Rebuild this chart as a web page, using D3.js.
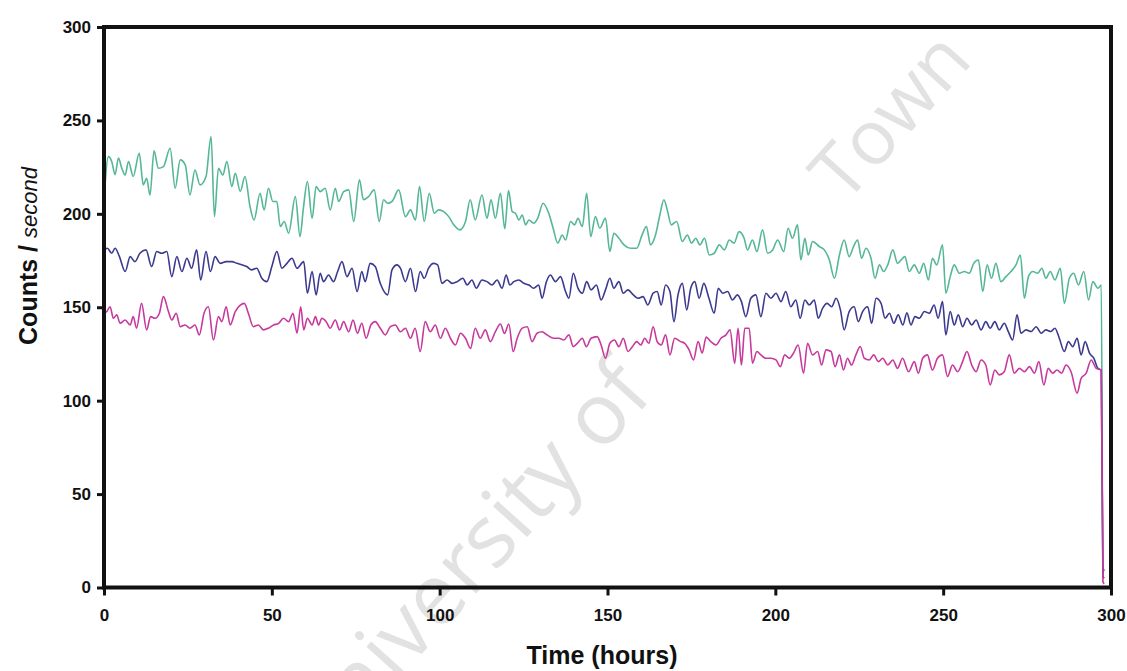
<!DOCTYPE html>
<html>
<head>
<meta charset="utf-8">
<script src="https://cdn.jsdelivr.net/npm/d3@7"></script>
<style>
  body { margin: 0; background: #fff; }
  svg { display: block; font-family: "Liberation Sans", Arial, sans-serif; }
</style>
</head>
<body>
<svg id="chart" width="1127" height="671"></svg>
<script>
// [hours, counts per second]
const green = [
  [0,206.6],[1.3,230.6],[2.3,228],[3.3,221],[4.3,229.8],[5.3,224.4],[6.3,220.8],[7.3,228],[8.7,220],[10.5,232.4],
  [11.7,215.5],[12.7,219],[13.7,210],[14.9,233.7],[16.2,224.4],[17.7,225.3],[19.7,235.1],[21.2,213.7],[22.7,228.9],[24.2,226.2],
  [25.6,210.1],[27.1,223.5],[28.6,215.5],[30.4,220],[31.9,241.4],[32.9,198.5],[34.1,224.4],[35.4,220.8],[36.6,228],[38.1,214.6],
  [39.1,221.7],[40.6,212],[42,220],[43.5,203.9],[44.7,196.7],[46.5,211],[47.7,202.1],[49,213.7],[50.3,206.6],[51.5,206.6],
  [52.5,193.2],[53.7,195.9],[55,189.6],[57,209.2],[58.4,187.8],[59.4,203],[60.6,217.3],[62,197.6],[63.2,214.6],[64.4,211.9],
  [65.9,213.7],[67.4,202.1],[68.9,213.7],[69.9,206.6],[71.4,211.9],[72.9,212.8],[74.4,195.9],[76.1,218.2],[77.3,207.5],[78.8,209.2],
  [80.5,212.8],[82,195.9],[83.3,207.5],[84.5,205.7],[85.8,206.6],[87.8,212.8],[89.8,198.5],[91.3,202.1],[92.8,196.7],[94,214.6],
  [95.4,195.9],[96.9,211],[98.4,200.3],[99.7,202.1],[101.2,201.2],[102.7,198.5],[104.2,194.1],[106,191.4],[107.7,195.9],[109.1,207.5],
  [110.6,196.7],[112.6,210.1],[114.1,197.6],[115.3,207.5],[116.6,197.6],[118.1,211],[119.4,192],[120.5,212.5],[121.6,201.2],[122.6,200.3],
  [123.6,196.7],[124.6,199.4],[125.6,194.1],[126.6,196.7],[128,195],[129.2,197.6],[130.8,205.7],[132.5,200.3],[133.8,192.3],[135.2,184.3],
  [136.5,188.7],[137.5,186],[139,195.9],[140.2,194.1],[141.2,197.6],[142.5,193.2],[143.8,211],[145,187.8],[146.4,198.5],[147.7,192.3],
  [149.4,197.6],[150.7,179.8],[151.9,189.6],[153.4,186.9],[154.9,183.4],[156.9,181.6],[158.7,181.6],[160.3,188.7],[161.6,193.2],[162.8,183.4],
  [164.3,188.7],[165.6,199.4],[166.8,207.5],[167.8,202.1],[169,194.1],[170.6,195.9],[172.3,185.2],[173.8,188.7],[175,184.3],[176.3,186.9],
  [177.5,183.4],[178.9,186.9],[180.3,178],[181.8,178.9],[183.3,183.4],[184.8,180.7],[186.3,186],[187.7,184.3],[189.2,190.5],[190.7,186.9],
  [191.7,180.7],[193.2,186],[194.5,179.8],[196.2,191.4],[197.7,178.9],[199.2,180.7],[200.7,186],[202.5,179.8],[203.8,192.3],[205.1,186.9],
  [206.6,194.1],[207.6,175.3],[208.8,186.9],[209.8,178],[211.1,185.2],[213.1,182.5],[214.6,180.7],[216.1,175.3],[217.6,165.5],[219.1,178],
  [220.5,186],[222,177.1],[223.3,182.5],[224.5,186],[225.7,176.2],[227,181.6],[228.5,176.2],[229.7,165.5],[231,172.7],[232.3,169.1],
  [233.5,172.7],[235,180.7],[236.4,173.5],[237.9,176.2],[238.6,177.1],[239.9,169.1],[241.4,172.7],[242.9,168.2],[244.2,173.5],[245.6,164.6],
  [246.8,176.2],[248.1,172.7],[249.8,183.4],[250.8,157.5],[252.1,166.4],[253.3,172.7],[254.8,168.2],[256.3,169.1],[257.8,168.2],[259.1,173.5],
  [260.5,175.3],[261.8,158.4],[263.1,172.7],[264.4,165.5],[265.7,173.5],[267.2,163.7],[268.7,166.4],[270.2,169.1],[271.7,172.7],[273,178],
  [274.2,154.8],[275.4,166.4],[276.7,169.1],[278.2,168.2],[279.4,170.9],[280.6,165.5],[281.9,169.1],[283.3,164.6],[284.9,170.9],[286.1,152.1],
  [287.6,165.5],[288.9,168.2],[290.3,161.9],[291.9,169.1],[293.3,153.9],[294.6,163.7],[296.1,160.2],[297.1,161.9],[297.6,8],[298,10]
];

const blue = [
  [0,180.7],[1,181.6],[2.3,178.9],[3.3,181.6],[4.6,177.1],[6.3,169.1],[7.8,177.1],[9.2,174.4],[10.7,178.9],[12.5,180.7],
  [14.2,171.8],[15.7,179.8],[17.2,178.9],[18.7,179.8],[20.2,166.4],[21.7,177.1],[23.2,169.1],[24.7,176.2],[26.1,170.9],[27.6,180.7],
  [28.8,164.6],[30.4,179.8],[31.7,169.1],[33.1,177.1],[34.6,173.5],[36.4,174.4],[38.1,174.4],[39.6,173.5],[41.1,172.7],[42.5,171.8],
  [44,170],[45.5,170.9],[47,165.5],[48.5,163.7],[50,171.8],[51.5,179.8],[53,170.9],[54.5,173.5],[56,176.2],[57.5,170.9],
  [59.5,174.4],[60.6,157.5],[62,169.1],[63.2,156.6],[64.4,168.2],[65.4,163.7],[66.9,167.3],[68.4,163.7],[69.6,169.1],[70.9,174.4],
  [72.4,166.4],[73.9,170.9],[75.4,158.4],[76.8,169.1],[77.8,163.7],[79.3,173.5],[80.8,171.8],[82.3,162.8],[84.5,156.6],[85.8,170],
  [87.3,172.7],[88.3,170.9],[89.8,163.7],[91.3,170.9],[92.8,158.4],[94.2,169.1],[95.4,165.5],[96.7,170.9],[98.2,173.5],[99.4,172.7],
  [100.7,162.8],[102.2,164.6],[103.7,162.8],[105.2,163.7],[106.9,165.5],[108.2,161.9],[109.6,164.6],[110.9,160.2],[112.6,164.6],[114.1,163.7],
  [115.6,161.9],[117.1,164.6],[118.6,160.2],[119.8,167.3],[120.9,161.9],[122.1,163.7],[123.6,164.6],[125.1,162.8],[126.6,161.9],[128,160.2],
  [129.5,161.9],[130.5,154.8],[131.8,163.7],[133,167.3],[134.5,163.7],[136,166.4],[137.5,158.4],[138.5,154.8],[139.8,168.2],[141.2,160.2],
  [142.5,157.5],[143.8,163.7],[145.1,159.3],[146.7,161.9],[148.1,153.9],[149.4,159.3],[150.7,165.5],[151.9,160.2],[153.4,163.7],[154.7,157.5],
  [156.1,159.3],[157.7,156.6],[159.1,154.8],[160.6,155.7],[162,151.2],[163.6,157.5],[164.8,158.4],[166,151.2],[167.3,161.9],[168.6,158.4],
  [169.8,142.3],[171,156.6],[172.3,162.8],[173.6,148.6],[174.8,160.2],[176,163.7],[177.3,154.8],[178.7,162.8],[180.2,155],[181.8,146.8],
  [183,160.2],[184.3,157.5],[185.8,158.4],[187.2,153.9],[188.7,156.6],[189.9,153],[191.2,145],[192.7,154.8],[194.2,156.6],[195.7,145],
  [197.2,157.5],[198.7,154.8],[200.2,157.5],[201.7,153],[203.1,158.4],[204.6,150.3],[206.1,153.9],[207.4,144.1],[208.8,153.9],[210.1,151.2],
  [211.6,153.9],[212.8,144.1],[214.1,149.5],[215.4,152.1],[216.8,150.3],[218.1,154.8],[219.4,148.6],[220.5,137.9],[222,147.7],[223.5,150.3],
  [224.7,142.3],[226,147.7],[227.5,150.3],[228.7,141.4],[230,154.8],[231.5,152.1],[232.7,144.1],[234,146.8],[235.3,141.4],[236.6,145.9],
  [238,140.5],[239.2,147],[240.4,140.5],[241.6,145],[242.9,144.1],[244.4,147.7],[245.9,146.8],[247.3,151.2],[248.5,144.1],[249.8,153],
  [250.8,135.2],[252.1,147.7],[253.3,140.5],[254.5,145.9],[255.8,139.6],[257.1,144.1],[258.5,140.5],[259.8,143.2],[261.3,137.9],[262.7,142.3],
  [264,138.8],[265.4,142.3],[266.7,137.9],[268.2,141.4],[269.4,137],[270.7,132.5],[272,145.9],[273.2,136.1],[274.7,137.9],[276.2,137],
  [277.7,139.6],[279.2,136.1],[280.6,137.9],[282.1,137],[283.3,138.8],[284.6,133.4],[286.1,126.3],[287.3,131.6],[288.6,128.9],[289.9,133.4],
  [291.1,124.5],[292.3,131.6],[293.6,125.4],[294.9,122.7],[296.1,117.3],[297.1,116.4],[297.6,6],[298,5]
];

const magenta = [
  [0,147],[0.8,147.7],[1.8,150.3],[2.8,144.1],[3.8,145.9],[4.8,141.4],[6.3,143.2],[7.8,140.5],[8.7,145],[9.7,138.8],
  [11.2,152.1],[12.7,137.9],[13.9,145],[15.2,144.1],[16.5,146.8],[17.7,155.7],[19.2,147.7],[20.2,143.2],[21.5,146.8],[22.7,139.6],
  [24.2,140.5],[25.6,138.8],[27.1,140.5],[28.4,135.2],[29.8,146.8],[31.1,150.3],[32.6,132.5],[34.1,145],[35.1,142.3],[36.4,150.3],
  [37.6,140.5],[39.1,147.7],[40.6,151.2],[41.8,152.1],[43,146.8],[44.5,139.6],[46,140.5],[47.5,137.9],[49,138.8],[50.5,140.5],
  [52,141.4],[53.5,144.1],[55,142.3],[56.3,146.8],[57.5,136.1],[58.6,150.3],[59.5,137.9],[60.6,144.1],[62,140.5],[63,145],
  [63.9,140.5],[64.9,144.1],[66.2,142.3],[67.4,138.8],[68.9,143.2],[70.2,137.9],[71.4,142.3],[72.9,136.9],[74.2,143.2],[75.5,136.1],
  [76.8,141.4],[78.1,133.4],[79.5,140.5],[80.8,142.3],[82.3,138.8],[83.8,135.2],[85.3,139.6],[86.8,140.5],[88.3,136.9],[89.8,138.8],
  [91.3,133.4],[92.7,138.8],[94.2,126.3],[95.7,142.3],[97.2,136.9],[98.7,140.5],[100.2,133.4],[101.7,138.8],[103.2,133.4],[104.7,129.8],
  [106.2,136.1],[107.7,133.4],[109.2,128],[110.6,138.8],[112.1,133.4],[113.6,137.9],[115.1,131.6],[116.6,136.9],[118.1,141],[119.3,136],
  [120.6,141],[121.9,126.3],[123.1,133.4],[124.6,138.8],[126.1,139.6],[127.5,131.6],[129,136.1],[130.5,136.9],[132,135.2],[134,133.4],
  [135.5,133.4],[137,132.5],[138.5,135.2],[139.8,128.9],[141,130.7],[142.5,133.4],[143.7,128.9],[145.1,133.4],[146.9,134.3],[148.1,129.8],
  [149.4,122.7],[150.7,130.7],[152.1,132.5],[153.4,128.9],[154.7,133.4],[156.1,126.3],[157.4,128.9],[158.7,131.6],[159.9,129.8],[161.1,133.4],
  [162.3,130.7],[163.6,139.6],[164.8,131.6],[166,129.8],[167.3,135.2],[168.6,124.5],[170,133.4],[171.8,131.6],[173,130.7],[174.3,127.2],
  [175.6,121.8],[177,131.6],[178.2,125.5],[179.4,134],[180.8,131.6],[182.3,129.8],[183.8,133.4],[185.3,135.2],[186.5,137.9],[187.9,120],
  [188.9,138.8],[189.9,119.1],[190.9,138.8],[192.2,138.8],[193.2,120],[194.5,126.3],[195.7,124.5],[197.2,122.7],[198.7,122.7],[200.2,121.8],
  [201.5,118.2],[202.8,124.5],[204.1,122.7],[205.4,125.4],[206.8,129.8],[208.4,114.7],[209.6,130.7],[211.1,124.5],[212.6,126.3],[213.8,119.1],
  [215.1,127.2],[216.6,126.3],[217.8,118.2],[219.1,124.5],[220.3,116.4],[221.5,122.7],[222.7,119.1],[224,124.5],[225.3,129],[226.5,122.7],
  [228,121.8],[229.3,124.5],[230.7,120.9],[232,122.7],[233.5,119.1],[235,121.8],[236.4,117.3],[237.9,122.7],[239.7,115.5],[241.4,120.9],
  [242.6,114.7],[243.9,122.7],[245.3,124.5],[246.8,116.4],[248.3,122.7],[249.8,124.5],[251.3,112.9],[252.8,119.1],[254.3,115.5],[255.8,120.9],
  [257.1,126.3],[258.5,119.1],[259.8,115.5],[261.3,121.8],[262.7,119.1],[264,108.4],[265.4,116.4],[266.7,113.8],[268.2,115.5],[269.7,124.5],
  [271.2,114.7],[272.7,117.3],[274.2,115.5],[275.7,118.2],[277.2,114.7],[278.5,120.9],[280,108.4],[281.3,117.3],[282.6,114.7],[283.9,116.4],
  [285.3,114.7],[286.6,119.1],[288.1,115.5],[289.9,104],[291.1,111.9],[292.6,114.7],[294.1,121.8],[295.6,117.3],[297.1,116.4],[297.6,3],[298,2]
];

const xTicks = [0, 50, 100, 150, 200, 250, 300];
const yTicks = [0, 50, 100, 150, 200, 250, 300];

const svg = d3.select("#chart");

const x = d3.scaleLinear().domain([0, 300]).range([104, 1111]);
const y = d3.scaleLinear().domain([0, 300]).range([587.5, 27]);

// watermark of the scanned thesis (the middle word is hidden in the scan)
svg.append("text")
    .attr("transform", "translate(655,395) rotate(-48)")
    .attr("text-anchor", "end")
    .style("font-family", "'Open Sans', 'Liberation Sans', sans-serif")
    .style("font-size", "86px")
    .style("fill", "#e2e2e2")
    .text("University of");

svg.append("text")
    .attr("transform", "translate(845,205) rotate(-48)")
    .style("font-family", "'Open Sans', 'Liberation Sans', sans-serif")
    .style("font-size", "76px")
    .style("fill", "#e2e2e2")
    .text("Town");

let line = d3.line()
    .x(function (d) { return x(d[0]); })
    .y(function (d) { return y(d[1]); })
    .curve(d3.curveMonotoneX);

let series = [
    { data: green, color: "#55b795" },
    { data: blue, color: "#3b3a8f" },
    { data: magenta, color: "#c63a9c" }
];

for (let i = 0; i < series.length; i++) {
    svg.append("path")
        .datum(series[i].data)
        .attr("d", line)
        .style("fill", "none")
        .style("stroke", series[i].color)
        .style("stroke-width", 1.6)
        .style("stroke-linejoin", "round");
}

// frame
svg.append("rect")
    .attr("x", x(0))
    .attr("y", y(300))
    .attr("width", x(300) - x(0))
    .attr("height", y(0) - y(300))
    .style("fill", "none")
    .style("stroke", "#111")
    .style("stroke-width", 4);

let yAxis = svg.append("g")
    .attr("transform", "translate(" + x(0) + ",0)")
    .call(d3.axisLeft(y).tickValues(yTicks).tickSize(7).tickPadding(6));

let xAxis = svg.append("g")
    .attr("transform", "translate(0," + y(0) + ")")
    .call(d3.axisBottom(x).tickValues(xTicks).tickSize(8).tickPadding(13));

[yAxis, xAxis].forEach(function (g) {
    g.select(".domain").remove();
    g.selectAll(".tick line").style("stroke", "#111").style("stroke-width", 3);
    g.selectAll(".tick text")
        .style("font-family", "'Liberation Sans', Arial, sans-serif")
        .style("font-weight", "bold")
        .style("font-size", "17px")
        .style("fill", "#111");
});

svg.append("text")
    .attr("x", 602)
    .attr("y", 664)
    .attr("text-anchor", "middle")
    .style("font-weight", "bold")
    .style("font-size", "25px")
    .style("fill", "#111")
    .text("Time (hours)");

let ylab = svg.append("text")
    .attr("transform", "translate(37,256) rotate(-90)")
    .attr("text-anchor", "middle")
    .style("fill", "#111");
ylab.append("tspan")
    .style("font-weight", "bold")
    .style("font-size", "25px")
    .text("Counts / ");
ylab.append("tspan")
    .style("font-style", "italic")
    .style("font-size", "22px")
    .text("second");
</script>
</body>
</html>
